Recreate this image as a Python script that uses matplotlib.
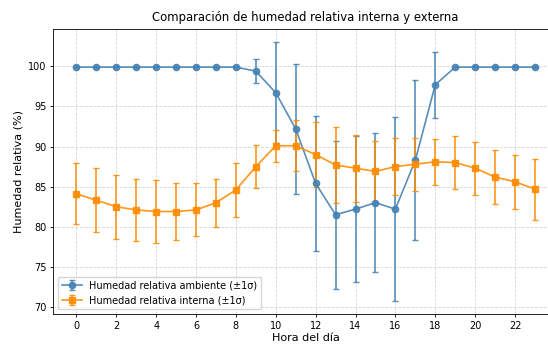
import matplotlib
matplotlib.use("Agg")
import matplotlib.pyplot as plt
import numpy as np

hours = list(range(24))
amb_mean = [99.9, 99.9, 99.9, 99.9, 99.9, 99.9, 99.9, 99.9, 99.9, 99.4, 96.7, 92.2,
            85.4, 81.5, 82.2, 83.0, 82.2, 88.3, 97.7, 99.9, 99.9, 99.9, 99.9, 99.9]
amb_std = [0, 0, 0, 0, 0, 0, 0, 0, 0, 1.5, 6.3, 8.1,
           8.4, 9.2, 9.1, 8.7, 11.5, 10.0, 4.1, 0, 0, 0, 0, 0]
int_mean = [84.1, 83.3, 82.5, 82.1, 81.9, 81.9, 82.1, 83.0, 84.6, 87.5, 90.1, 90.1,
            89.0, 87.7, 87.3, 86.9, 87.5, 87.8, 88.1, 88.0, 87.3, 86.2, 85.6, 84.7]
int_std = [3.8, 4.0, 4.0, 3.9, 3.9, 3.5, 3.3, 3.0, 3.4, 2.7, 2.0, 3.2,
           4.0, 4.7, 4.2, 3.8, 3.6, 3.3, 2.9, 3.3, 3.3, 3.4, 3.4, 3.8]

fig = plt.figure(figsize=(5.48, 3.44), dpi=100)
ax = fig.add_axes([0.0976, 0.0863, 1.018 - 0.0976, 0.9148 - 0.0863])
ax.errorbar(hours, amb_mean, yerr=amb_std, fmt='-o', color='steelblue', ecolor='steelblue',
            capsize=2.5, markersize=4.5, linewidth=1.2, elinewidth=1.2, capthick=1.0, alpha=0.9,
            label='Humedad relativa ambiente (±1σ)')
ax.errorbar(hours, int_mean, yerr=int_std, fmt='-s', color='darkorange', ecolor='darkorange',
            capsize=2.5, markersize=4.5, linewidth=1.2, elinewidth=1.2, capthick=1.0, alpha=0.9,
            label='Humedad relativa interna (±1σ)')
ax.set_xticks(range(0, 24, 2))
ax.set_title('Comparación de humedad relativa interna y externa', fontsize=8.4)
ax.set_xlabel('Hora del día', fontsize=8, labelpad=1.5)
ax.set_ylabel('Humedad relativa (%)', fontsize=8, labelpad=3)
ax.tick_params(labelsize=7, length=2.5, width=0.6, pad=2.5)
for s in ax.spines.values():
    s.set_linewidth(0.6)
ax.grid(True, linestyle='--', alpha=0.5, linewidth=0.6)
ax.legend(loc='lower left', fontsize=7)
fig.savefig('out.png', dpi=100)
